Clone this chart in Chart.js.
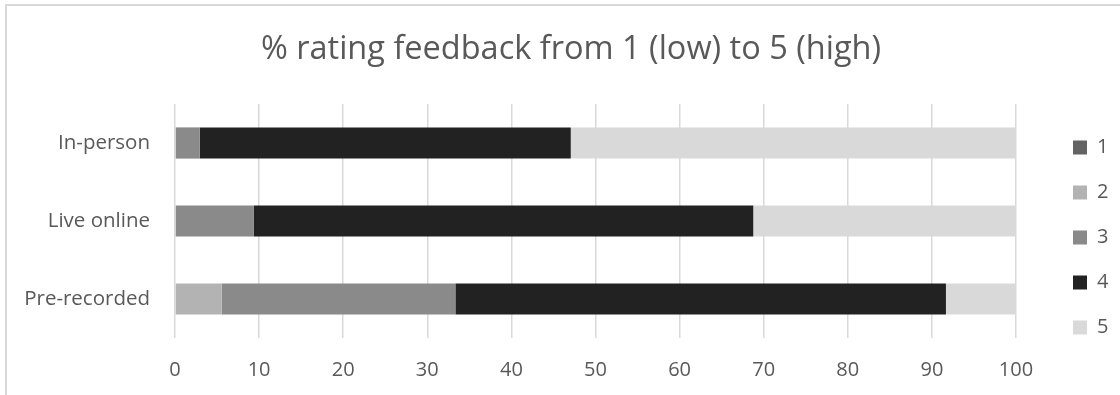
<!DOCTYPE html>
<html>
<head>
<meta charset="utf-8">
<script src="https://cdn.jsdelivr.net/npm/chart.js@4.4.1/dist/chart.umd.min.js"></script>
<style>
  html, body { margin: 0; padding: 0; background: #ffffff; }
  #wrap { position: relative; width: 1120px; height: 395px; overflow: hidden; }
  #frame { position: absolute; left: 5px; top: 4px; width: 1130px; height: 400px; border-left: 2px solid #d9d9d9; border-top: 2px solid #d9d9d9; box-sizing: border-box; pointer-events: none; }
  canvas { position: absolute; left: 0; top: 0; }
</style>
</head>
<body>
<div id="wrap">
  <canvas id="c" width="1120" height="395"></canvas>
  <div id="frame"></div>
</div>
<script>
const categories = ['In-person', 'Live online', 'Pre-recorded'];
const seriesNames = ['1', '2', '3', '4', '5'];
const rating1 = [0, 0, 0];
const rating2 = [0, 0, 5.56];
const rating3 = [2.94, 9.38, 27.78];
const rating4 = [44.12, 59.38, 58.33];
const rating5 = [52.94, 31.25, 8.33];
const xTicks = [0, 10, 20, 30, 40, 50, 60, 70, 80, 90, 100];
const titleText = '% rating feedback from 1 (low) to 5 (high)';

const colors = ['#636363', '#b3b3b3', '#8a8a8a', '#222222', '#d9d9d9'];
const FONT = "'Open Sans', sans-serif";
const TEXT = '#595959';

const seriesValues = [rating1, rating2, rating3, rating4, rating5];

const layoutTweak = {
  id: 'layoutTweak',
  afterInit(chart) {
    const lg = chart.legend;
    const origFit = lg.fit.bind(lg);
    lg.fit = function () { origFit(); this.width = 104; };
  },
  afterLayout(chart) {
    const lg = chart.legend;
    const dx = 1048 - lg.left;
    lg.left += dx; lg.right += dx;
    const dy = 112.5 - lg.top;
    lg.top += dy; lg.bottom += dy;
    const tb = chart.titleBlock;
    if (tb) { tb.left += 11; tb.right += 11; }
  }
};

new Chart(document.getElementById('c'), {
  type: 'bar',
  data: {
    labels: categories,
    datasets: seriesValues.map((vals, i) => ({
      label: seriesNames[i],
      data: vals,
      backgroundColor: colors[i],
      borderWidth: 0,
      categoryPercentage: 1,
      barPercentage: 0.4
    }))
  },
  options: {
    indexAxis: 'y',
    responsive: false,
    animation: false,
    layout: { padding: { left: 0, right: 0, top: 0, bottom: 0 } },
    plugins: {
      title: {
        display: true,
        text: titleText,
        color: TEXT,
        font: { family: FONT, size: 32.5, weight: 'normal' },
        padding: { top: 30, bottom: 35 }
      },
      legend: {
        display: true,
        position: 'right',
        align: 'start',
        labels: {
          color: TEXT,
          font: { family: FONT, size: 20 },
          boxWidth: 14,
          boxHeight: 14,
          padding: 25
        }
      },
      tooltip: { enabled: false }
    },
    scales: {
      x: {
        stacked: true,
        min: 0,
        max: 100,
        afterBuildTicks: (s) => { s.ticks = xTicks.map(v => ({ value: v })); },
        afterFit: (s) => { s.height = 57; },
        grid: { color: '#d9d9d9', lineWidth: 1.5, drawTicks: false },
        border: { display: false },
        ticks: { color: TEXT, font: { family: FONT, size: 20 }, padding: 20 }
      },
      y: {
        stacked: true,
        afterFit: (s) => { s.width = 175; },
        grid: { display: false, drawTicks: false },
        border: { display: false },
        ticks: { color: TEXT, font: { family: FONT, size: 20.5 }, padding: 25 }
      }
    }
  },
  plugins: [layoutTweak]
});
</script>
</body>
</html>
